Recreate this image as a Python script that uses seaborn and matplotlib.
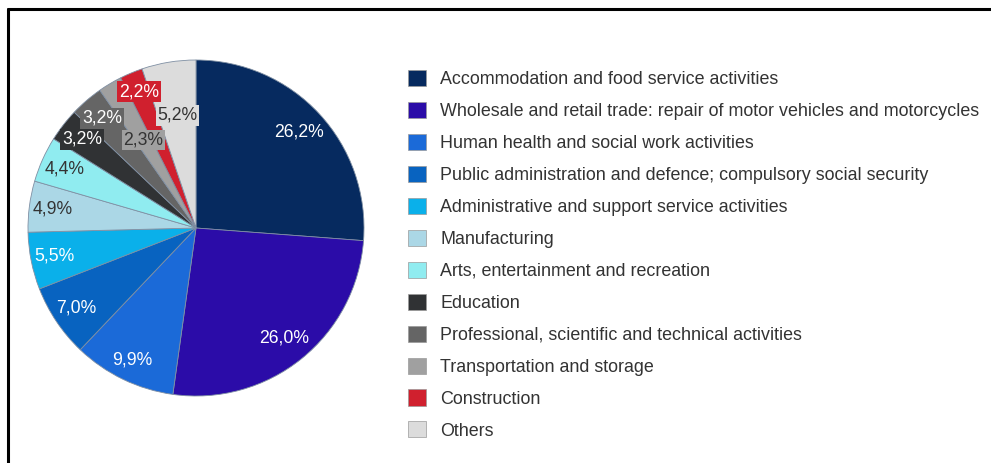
import numpy as np
import matplotlib.pyplot as plt
import matplotlib.patches as mpatches
from matplotlib.lines import Line2D
import seaborn as sns

sns.set_theme(style="white")
plt.rcParams['font.family'] = ['Liberation Sans', 'DejaVu Sans']

# Sector shares (percent), clockwise from 12 o'clock
sectors = [
    "Accommodation and food service activities",
    "Wholesale and retail trade: repair of motor vehicles and motorcycles",
    "Human health and social work activities",
    "Public administration and defence; compulsory social security",
    "Administrative and support service activities",
    "Manufacturing",
    "Arts, entertainment and recreation",
    "Education",
    "Professional, scientific and technical activities",
    "Transportation and storage",
    "Construction",
    "Others",
]
shares = [26.2, 26.0, 9.9, 7.0, 5.5, 4.9, 4.4, 3.2, 3.2, 2.3, 2.2, 5.2]
colors = ["#062a5f", "#2b0ca8", "#1b6ad8", "#0863c0", "#0ab0ea", "#abd7e6",
          "#90ecf0", "#303234", "#656565", "#a0a0a0", "#d0202e", "#dcdcdc"]
label_colors = ["white", "white", "white", "white", "white", "#333333",
                "#333333", "white", "white", "#333333", "white", "#333333"]
label_boxed = [False, False, False, False, False, False,
               False, True, True, True, True, True]
label_dist = [0.84, 0.84, 0.87, 0.86, 0.86, 0.86,
              0.86, 0.86, 0.86, 0.61, 0.88, 0.68]

fig = plt.figure(figsize=(9.91, 4.63), dpi=100)
W, H = 991, 463
cx, cy, r = 196, 228, 168
ax = fig.add_axes([(cx - r) / W, (H - cy - r) / H, 2 * r / W, 2 * r / H])

wedges, _ = ax.pie(shares, colors=colors, startangle=90, counterclock=False,
                   wedgeprops=dict(edgecolor="#7f8fa3", linewidth=0.6))
for w in wedges:
    w.set_clip_on(False)
ax.set_xlim(-1, 1)
ax.set_ylim(-1, 1)
ax.set_aspect("equal")
ax.axis("off")

# percentage labels
for w, val, tc, boxed, d, fc in zip(wedges, shares, label_colors, label_boxed, label_dist, colors):
    ang = np.deg2rad((w.theta1 + w.theta2) / 2)
    x, y = d * np.cos(ang), d * np.sin(ang)
    txt = f"{val:.1f}".replace(".", ",") + "%"
    bbox = dict(boxstyle="square,pad=0.1", fc=fc, ec="none") if boxed else None
    ax.text(x, y, txt, ha="center", va="center", fontsize=12.7, color=tc, bbox=bbox)

# legend
handles = [mpatches.Patch(facecolor=c, edgecolor="#9a9a9a", linewidth=0.5) for c in colors]
fig.legend(handles, sectors, loc="upper left", bbox_to_anchor=(408 / W, 1 - 70 / H),
           frameon=False, fontsize=12.9, handlelength=1.0, handleheight=1.0,
           handletextpad=0.8, labelspacing=0.77, borderpad=0, borderaxespad=0,
           labelcolor="#333333")

# frame lines (top and left)
fig.add_artist(Line2D([8 / W, 8 / W], [0, 1 - 9 / H], color="black", lw=2.2,
                      transform=fig.transFigure))
fig.add_artist(Line2D([8 / W, 1], [1 - 9 / H, 1 - 9 / H], color="black", lw=2.2,
                      transform=fig.transFigure))

fig.savefig("out.png", dpi=100)
